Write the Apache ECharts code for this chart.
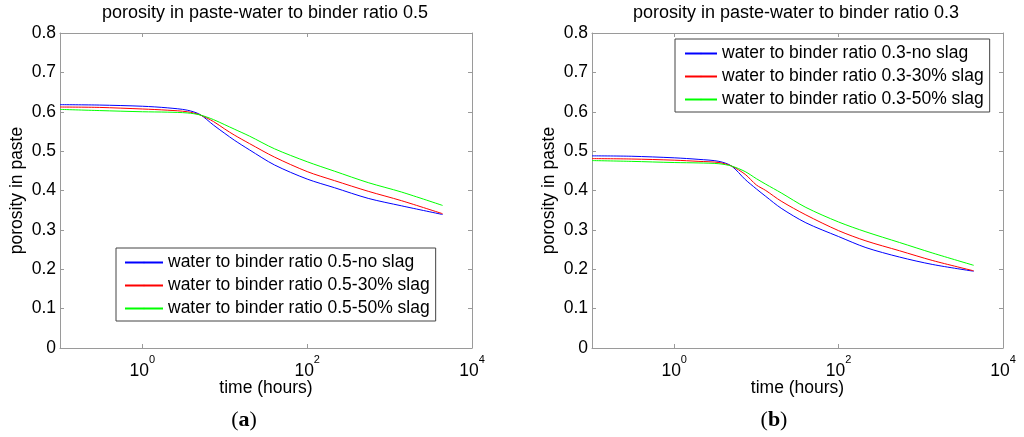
<!DOCTYPE html>
<html><head><meta charset="utf-8">
<script src="https://cdn.jsdelivr.net/npm/echarts@6/dist/echarts.min.js"></script>
<style>html,body{margin:0;padding:0;background:#fff}#c{width:1024px;height:437px}</style>
</head><body><div id="c"></div>
<script>
const timeHours = [0.1, 0.3, 1, 2, 3.5, 5, 7.3, 10, 13, 20, 40, 100, 215, 550, 1400, 4400];
const leftNoSlag   = [0.618, 0.617, 0.614, 0.610, 0.604, 0.593, 0.566, 0.545, 0.528, 0.503, 0.465, 0.429, 0.407, 0.380, 0.361, 0.339];
const left30Slag   = [0.612, 0.611, 0.607, 0.604, 0.600, 0.592, 0.575, 0.556, 0.541, 0.519, 0.485, 0.448, 0.425, 0.398, 0.374, 0.341];
const left50Slag   = [0.606, 0.603, 0.600, 0.599, 0.597, 0.592, 0.580, 0.567, 0.556, 0.538, 0.506, 0.473, 0.449, 0.420, 0.396, 0.362];
const rightNoSlag  = [0.488, 0.487, 0.483, 0.479, 0.474, 0.462, 0.428, 0.404, 0.385, 0.355, 0.318, 0.283, 0.255, 0.231, 0.212, 0.195];
const right30Slag  = [0.481, 0.480, 0.477, 0.474, 0.471, 0.462, 0.441, 0.414, 0.400, 0.373, 0.338, 0.298, 0.272, 0.247, 0.222, 0.196];
const right50Slag  = [0.476, 0.474, 0.471, 0.470, 0.468, 0.462, 0.448, 0.430, 0.416, 0.394, 0.357, 0.320, 0.295, 0.268, 0.241, 0.210];
const leftNames  = ['water to binder ratio 0.5-no slag', 'water to binder ratio 0.5-30% slag', 'water to binder ratio 0.5-50% slag'];
const rightNames = ['water to binder ratio 0.3-no slag', 'water to binder ratio 0.3-30% slag', 'water to binder ratio 0.3-50% slag'];
const titles = ['porosity in paste-water to binder ratio 0.5', 'porosity in paste-water to binder ratio 0.3'];
const panelLabels = ['a', 'b'];
const xTickExps = [0, 2, 4];
const colors = ['#0000ff', '#ff0000', '#00ff00'];

const FONT = "'Liberation Sans', Arial, sans-serif";
const FS = 17.5;
const BOX = '#9a9a9a';
const grids = [
  {left: 60, top: 33, width: 412, height: 315},
  {left: 592, top: 33, width: 411, height: 315}
];

const xAxes = [], yAxes = [];
grids.forEach((g, gi) => {
  xAxes.push({type: 'log', logBase: 10, gridIndex: gi, min: 0.1, max: 10000, show: false});
  xAxes.push({type: 'value', gridIndex: gi, min: -1, max: 4, position: 'bottom',
    axisLine: {show: true, onZero: false, lineStyle: {color: BOX, width: 1}},
    axisTick: {show: true, inside: true, length: 4, lineStyle: {color: BOX}, customValues: xTickExps},
    splitLine: {show: false},
    axisLabel: {customValues: xTickExps, margin: 6, color: '#000',
      formatter: v => '{b|10}{s|' + v + '}',
      rich: {b: {fontSize: FS, fontFamily: FONT, color: '#000', lineHeight: 26, verticalAlign: 'bottom'},
             s: {fontSize: 11, fontFamily: FONT, color: '#000', lineHeight: 12, verticalAlign: 'top'}}},
    name: 'time (hours)', nameLocation: 'middle', nameGap: 31, nameMoveOverlap: false,
    nameTextStyle: {fontSize: FS, fontFamily: FONT, color: '#000'}});
  xAxes.push({type: 'value', gridIndex: gi, min: -1, max: 4, position: 'top',
    axisLine: {show: true, onZero: false, lineStyle: {color: BOX, width: 1}},
    axisTick: {show: true, inside: true, length: 4, lineStyle: {color: BOX}, customValues: xTickExps.slice(0, 2)},
    splitLine: {show: false}, axisLabel: {show: false}});
  yAxes.push({type: 'value', gridIndex: gi, min: 0, max: 0.8, interval: 0.1, position: 'left',
    axisLine: {show: true, onZero: false, lineStyle: {color: BOX, width: 1}},
    axisTick: {show: true, inside: true, length: 4, lineStyle: {color: BOX}},
    splitLine: {show: false},
    axisLabel: {margin: 4, fontSize: FS, fontFamily: FONT, color: '#000',
      formatter: v => (Math.round(v * 10) / 10).toString()},
    name: 'porosity in paste', nameLocation: 'middle', nameGap: 34, nameMoveOverlap: false,
    nameTextStyle: {fontSize: FS, fontFamily: FONT, color: '#000'}});
  yAxes.push({type: 'value', gridIndex: gi, min: 0, max: 0.8, interval: 0.1, position: 'right',
    axisLine: {show: true, onZero: false, lineStyle: {color: BOX, width: 1}},
    axisTick: {show: true, inside: true, length: 4, lineStyle: {color: BOX}},
    splitLine: {show: false}, axisLabel: {show: false}});
});

function mk(name, vals, ci, gi) {
  return {name, type: 'line', xAxisIndex: gi * 3, yAxisIndex: gi * 2, symbol: 'none', smooth: 0.3,
    color: colors[ci], itemStyle: {color: colors[ci]}, lineStyle: {width: 1, color: colors[ci]},
    data: timeHours.map((t, i) => [t, vals[i]])};
}
const series = [
  mk(leftNames[0], leftNoSlag, 0, 0), mk(leftNames[1], left30Slag, 1, 0), mk(leftNames[2], left50Slag, 2, 0),
  mk(rightNames[0], rightNoSlag, 0, 1), mk(rightNames[1], right30Slag, 1, 1), mk(rightNames[2], right50Slag, 2, 1)
];

const legendBase = {orient: 'vertical', itemGap: 0, itemHeight: 2, backgroundColor: '#fff',
  borderColor: '#444', borderWidth: 1, borderRadius: 0,
  textStyle: {fontSize: FS, fontFamily: FONT, color: '#000', lineHeight: 23}};

const serifRich = {p: {fontSize: 22, fontFamily: "'Liberation Serif', serif", fill: '#000'},
                   l: {fontSize: 22, fontWeight: 'bold', fontFamily: "'Liberation Serif', serif", fill: '#000'}};

const chart = echarts.init(document.getElementById('c'), null, {renderer: 'canvas'});
chart.setOption({
  animation: false,
  backgroundColor: '#fff',
  grid: grids,
  xAxis: xAxes,
  yAxis: yAxes,
  legend: [
    Object.assign({}, legendBase, {data: leftNames, left: 116, top: 248, itemWidth: 38, padding: [3, 6, 1, 8]}),
    Object.assign({}, legendBase, {data: rightNames, left: 675, top: 39, itemWidth: 32, padding: [3, 6, 1, 9]})
  ],
  graphic: [
    {type: 'text', x: 265, y: 13, style: {text: titles[0], fontSize: 18, fontFamily: FONT, fill: '#000', align: 'center', verticalAlign: 'middle'}},
    {type: 'text', x: 796, y: 13, style: {text: titles[1], fontSize: 18, fontFamily: FONT, fill: '#000', align: 'center', verticalAlign: 'middle'}},
    {type: 'text', x: 244, y: 420, style: {text: '{p|(}{l|' + panelLabels[0] + '}{p|)}', align: 'center', verticalAlign: 'middle', rich: serifRich}},
    {type: 'text', x: 774, y: 420, style: {text: '{p|(}{l|' + panelLabels[1] + '}{p|)}', align: 'center', verticalAlign: 'middle', rich: serifRich}}
  ],
  series
});
</script></body></html>
